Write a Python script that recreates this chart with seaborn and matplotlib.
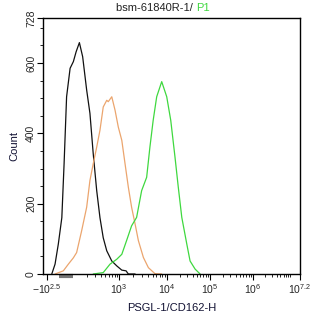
import numpy as np
import pandas as pd
import matplotlib
matplotlib.use('Agg')
import matplotlib.pyplot as plt
import seaborn as sns

# -----------------------------------------------------------
# histogram outlines (x in display channels 0-1024)
black_x = [35, 48, 61, 75, 84, 94, 108, 121, 132, 145, 158, 174, 187, 200,
           214, 227, 240, 254, 274, 294, 314, 331, 340, 367]
black_y = [0, 28, 85, 160, 313, 504, 585, 604, 632, 658, 618, 523, 457, 343,
           237, 160, 103, 66, 37, 23, 11, 9, 0, 0]

orange_x = [48, 81, 101, 121, 134, 154, 174, 187, 200, 214, 227, 240, 254, 260,
            274, 287, 300, 314, 327, 340, 353, 367, 380, 400, 420, 446, 473]
orange_y = [0, 9, 28, 46, 61, 123, 190, 266, 313, 361, 409, 475, 494, 490,
            504, 466, 418, 380, 313, 247, 190, 142, 95, 47, 18, 1, 0]

green_x = [200, 240, 267, 294, 314, 333, 353, 373, 393, 413, 426, 439, 453, 473,
           493, 509, 526, 539, 553, 573, 586, 606, 626]
green_y = [0, 4, 28, 42, 56, 95, 137, 161, 237, 275, 361, 437, 504, 547,
           504, 437, 332, 247, 161, 85, 37, 14, 0]

x_tick_pos = [16, 303, 494, 665, 837, 1024]
x_tick_lab = ['$-10^{2.5}$', '$10^{3}$', '$10^{4}$', '$10^{5}$', '$10^{6}$', '$10^{7.2}$']
y_ticks = [0, 200, 400, 600, 728]
# -----------------------------------------------------------

df = pd.concat([
    pd.DataFrame({'ch': black_x, 'count': black_y, 'sample': 'blank'}),
    pd.DataFrame({'ch': orange_x, 'count': orange_y, 'sample': 'isotype'}),
    pd.DataFrame({'ch': green_x, 'count': green_y, 'sample': 'P1'}),
])
palette = {'blank': '#111111', 'isotype': '#EBA56E', 'P1': '#3FD83F'}

sns.set_style('white')
plt.rcParams['font.family'] = ['Liberation Sans', 'DejaVu Sans']
plt.rcParams['mathtext.fontset'] = 'custom'
plt.rcParams['mathtext.rm'] = 'Liberation Sans'
plt.rcParams['mathtext.it'] = 'Liberation Sans'

fig = plt.figure(figsize=(3.14, 3.17), dpi=100)
ax = fig.add_axes([43/314, 43/317, 257/314, 256/317])

sns.lineplot(data=df, x='ch', y='count', hue='sample', palette=palette,
             sort=False, estimator=None, legend=False, linewidth=0.9, ax=ax)

ax.set_xlim(0, 1024)
ax.set_ylim(0, 728)

ax.set_xticks(x_tick_pos)
ax.set_xticklabels(x_tick_lab, fontsize=7.5)
# minor log ticks inside each decade
minor = []
for p0, p1, n in zip(x_tick_pos[1:-1], x_tick_pos[2:], [1, 1, 1, 1.2]):
    for k in range(2, 10):
        minor.append(p0 + np.log10(k) * (p1 - p0) / n)
for k in range(2, 10):
    minor.append(x_tick_pos[1] - np.log10(10 / k) * 180)
minor = [m for m in minor if 0 < m < 1024]
ax.set_xticks(minor, minor=True)

ax.set_yticks(y_ticks)
ax.set_yticklabels([str(v) for v in y_ticks], fontsize=7.5, rotation=90, va='center')
ax.set_yticks(np.arange(50, 728, 50), minor=True)

ax.tick_params(which='both', bottom=True, left=True, top=False, right=False)
ax.tick_params(which='major', direction='out', length=4, width=0.8, color='black', pad=2)
ax.tick_params(which='minor', direction='out', length=2, width=0.6, color='black')
ax.tick_params(axis='y', which='major', pad=1)

# small gate marker just below the axis
ax.plot([65, 118], [-6, -6], color='#777777', linewidth=3, clip_on=False,
        solid_capstyle='butt')

for s in ax.spines.values():
    s.set_color('black')
    s.set_linewidth(1.0)

ax.set_xlabel('PSGL-1/CD162-H', fontsize=8, color='#111133', labelpad=5)
ax.set_ylabel('Count', fontsize=8, color='#111133', labelpad=5)

ax.text(0.595, 1.04, 'bsm-61840R-1/ ', transform=ax.transAxes, ha='right',
        va='center', fontsize=8, color='#222222')
ax.text(0.595, 1.04, 'P1', transform=ax.transAxes, ha='left',
        va='center', fontsize=8, color='#3FD83F')

fig.savefig('out.png', dpi=100)
